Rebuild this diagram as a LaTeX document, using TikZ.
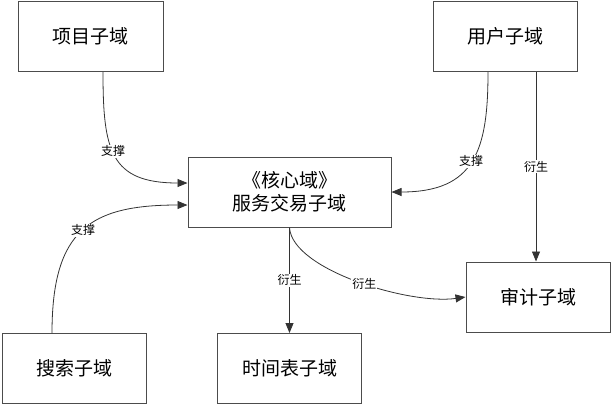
\documentclass[tikz,border=0pt]{standalone}
\usepackage{fontspec}
\setmainfont{Noto Sans CJK SC}
\usetikzlibrary{arrows.meta,positioning}

\begin{document}
\begin{tikzpicture}[x=1pt,y=-1pt,
		subdomain/.style={draw=black!70,line width=1pt,minimum width=144pt,minimum height=70pt,inner sep=0pt,align=center,font=\fontsize{19}{23}\selectfont},
		rel/.style={draw=black!80,line width=0.8pt,-{Triangle[length=10pt,width=8pt]}},
		lbl/.style={fill=white,inner sep=1pt,font=\fontsize{12}{14}\selectfont}]
		\useasboundingbox (0,0) rectangle (612,405);
		% subdomains
		\node[subdomain,minimum width=145pt] (xiangmu) at (90.5,36.5) {项目子域};
		\node[subdomain] (yonghu) at (505,36.5) {用户子域};
		\node[subdomain,minimum width=203pt] (hexin) at (289.5,192) {《核心域》\\服务交易子域};
		\node[subdomain] (shenji) at (538,297) {审计子域};
		\node[subdomain] (sousuo) at (74,368.5) {搜索子域};
		\node[subdomain] (shijian) at (289.5,368.5) {时间表子域};
		% support
		\draw[rel] ([xshift=12.5pt]xiangmu.south) .. controls (103,150) and (110,183) .. ([yshift=9pt]hexin.west) node[lbl,pos=0.45] {支撑};
		\draw[rel] ([xshift=-22pt]sousuo.north) .. controls (52,230) and (90,205) .. ([yshift=-13pt]hexin.west) node[lbl,pos=0.5] {支撑};
		\draw[rel] ([xshift=-17pt]yonghu.south) .. controls (488,150) and (475,192) .. (hexin.east) node[lbl,pos=0.5] {支撑};
		% derive
		\draw[rel] ([xshift=31pt]yonghu.south) -- ([xshift=31pt]yonghu.south |- shenji.north) node[lbl,midway] {衍生};
		\draw[rel] (hexin.south) -- (shijian.north) node[lbl,midway] {衍生};
		\draw[rel] (hexin.south) .. controls (292,270) and (410,305) .. (shenji.west) node[lbl,pos=0.53] {衍生};
	\end{tikzpicture}
\end{document}
